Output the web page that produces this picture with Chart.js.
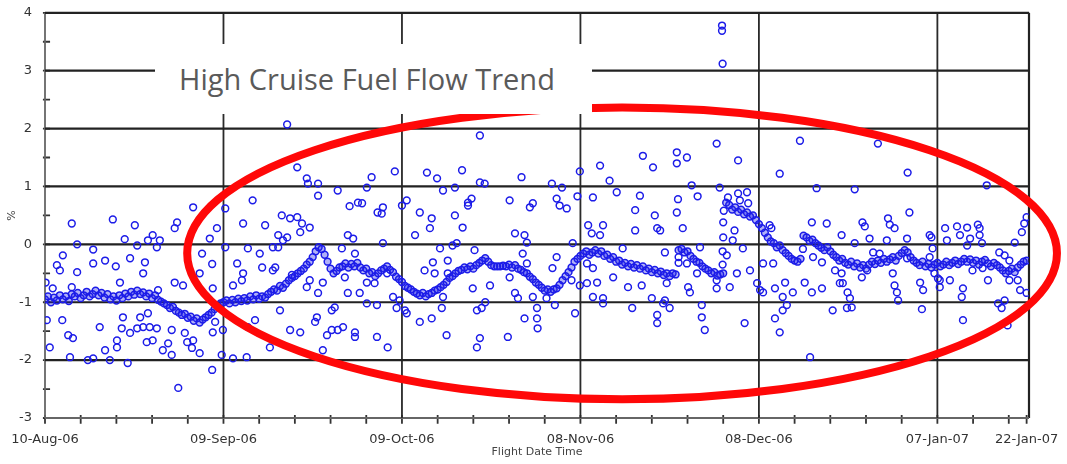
<!DOCTYPE html>
<html>
<head>
<meta charset="utf-8">
<script src="https://cdn.jsdelivr.net/npm/chart.js@4.4.1/dist/chart.umd.min.js"></script>
<style>
  html, body { margin: 0; padding: 0; background: #fff; }
  #wrap { position: relative; width: 1067px; height: 464px; }
  #ring-layer { position: absolute; left: 0; top: 0; pointer-events: none; }
  #title-box {
    position: absolute; left: 155px; top: 44px; width: 437px; height: 70px;
    box-sizing: border-box; padding-left: 24px; background: #fff;
    font-family: "Open Sans", sans-serif; font-size: 29px; line-height: 70px; color: #5a5a5a;
    white-space: nowrap;
  }
</style>
</head>
<body>
<div id="wrap">
  <canvas id="fuel-chart" width="1067" height="464"></canvas>
  <canvas id="ring-layer" width="1067" height="464"></canvas>
  <div id="title-box">High Cruise Fuel Flow Trend</div>
</div>
<script>
// x = days since 10-Aug-06, y = deviation in %
var tickDays = [0, 30, 60, 90, 120, 150, 165];
var tickLabels = ['10-Aug-06', '09-Sep-06', '09-Oct-06', '08-Nov-06', '08-Dec-06', '07-Jan-07', '22-Jan-07'];
var minorTickDays = [6, 12, 18, 24, 36, 42, 48, 54, 66, 72, 78, 84, 96, 102, 108, 114, 126, 132, 138, 144, 156, 162];
var yTickValues = [-3, -2.5, -2, -1.5, -1, -0.5, 0, 0.5, 1, 1.5, 2, 2.5, 3, 3.5, 4];
var dayMax = 165.4;

// smoothed trend, one reading every half day
var trendStartDay = 0;
var trendStepDays = 0.5;
var trendPct = [
  -0.95,-0.9,-1.0,-0.92,-0.97,-0.88,-0.95,-0.9,-0.98,-0.86,
  -0.9,-0.84,-0.93,-0.88,-0.82,-0.9,-0.86,-0.8,-0.88,-0.84,
  -0.92,-0.86,-0.95,-0.9,-0.97,-0.88,-0.93,-0.85,-0.9,-0.82,
  -0.87,-0.8,-0.86,-0.83,-0.9,-0.85,-0.93,-0.88,-0.96,-0.99,
  -1.02,-1.05,-1.1,-1.08,-1.15,-1.18,-1.22,-1.2,-1.27,-1.25,
  -1.32,-1.28,-1.35,-1.3,-1.26,-1.22,-1.18,-1.12,-1.08,-1.02,
  -1.0,-0.97,-1.02,-0.96,-1.0,-0.94,-0.98,-0.93,-0.97,-0.9,
  -0.95,-0.88,-0.94,-0.9,-0.92,-0.86,-0.82,-0.78,-0.8,-0.72,
  -0.75,-0.68,-0.62,-0.58,-0.55,-0.5,-0.46,-0.42,-0.35,-0.3,
  -0.22,-0.12,-0.05,-0.08,-0.18,-0.3,-0.42,-0.5,-0.46,-0.4,
  -0.38,-0.33,-0.4,-0.34,-0.38,-0.32,-0.4,-0.45,-0.42,-0.5,
  -0.48,-0.55,-0.5,-0.45,-0.42,-0.38,-0.44,-0.48,-0.56,-0.6,
  -0.65,-0.72,-0.75,-0.78,-0.82,-0.85,-0.88,-0.84,-0.9,-0.86,
  -0.84,-0.8,-0.78,-0.74,-0.7,-0.65,-0.58,-0.55,-0.5,-0.46,
  -0.44,-0.4,-0.43,-0.38,-0.42,-0.36,-0.32,-0.28,-0.24,-0.3,
  -0.36,-0.38,-0.38,-0.38,-0.37,-0.38,-0.35,-0.4,-0.36,-0.42,
  -0.44,-0.48,-0.5,-0.56,-0.6,-0.66,-0.7,-0.75,-0.8,-0.78,
  -0.82,-0.78,-0.76,-0.7,-0.62,-0.55,-0.48,-0.4,-0.3,-0.25,
  -0.2,-0.16,-0.12,-0.18,-0.14,-0.1,-0.16,-0.12,-0.2,-0.18,
  -0.25,-0.22,-0.3,-0.28,-0.35,-0.32,-0.38,-0.34,-0.4,-0.36,
  -0.42,-0.38,-0.45,-0.42,-0.48,-0.44,-0.5,-0.47,-0.53,-0.5,
  -0.55,-0.5,-0.52,-0.1,-0.08,-0.14,-0.12,-0.2,-0.25,-0.3,
  -0.32,-0.38,-0.42,-0.45,-0.5,-0.48,-0.54,-0.52,-0.5,0.72,
  0.68,0.6,0.64,0.56,0.6,0.52,0.55,0.48,0.5,0.42,
  0.35,0.28,0.2,0.12,0.05,0.02,-0.05,-0.02,-0.1,-0.15,
  -0.2,-0.25,-0.28,-0.3,-0.25,0.15,0.12,0.06,0.08,0.02,
  -0.02,-0.06,-0.1,-0.05,-0.12,-0.18,-0.22,-0.28,-0.25,-0.32,
  -0.35,-0.3,-0.38,-0.33,-0.4,-0.36,-0.42,-0.35,-0.3,-0.34,
  -0.28,-0.32,-0.25,-0.3,-0.26,-0.22,-0.28,-0.2,-0.15,-0.1,
  -0.14,-0.22,-0.28,-0.32,-0.36,-0.3,-0.38,-0.34,-0.4,-0.35,
  -0.32,-0.38,-0.35,-0.3,-0.36,-0.32,-0.28,-0.34,-0.3,-0.25,
  -0.3,-0.26,-0.32,-0.28,-0.35,-0.3,-0.27,-0.33,-0.38,-0.32,
  -0.36,-0.4,-0.45,-0.5,-0.46,-0.42,-0.48,-0.4,-0.35,-0.3,
  -0.28
];

// individual flights away from the trend: [day, %]
var scatterPoints = [
  [24.9,0.64],[30.3,0.62],[4.5,0.36],[11.4,0.43],[15.1,0.33],[21.8,0.28],[22.2,0.38],[28.9,0.28],
  [5.4,0.0],[13.4,0.09],[15.5,-0.02],[17.3,0.07],[18.1,0.16],[19.3,0.07],[18.8,-0.05],[27.7,0.1],
  [30.3,-0.05],[8.1,-0.09],[3.0,-0.19],[8.1,-0.33],[10.1,-0.28],[11.9,-0.38],[14.3,-0.24],[16.8,-0.31],
  [26.4,-0.16],[28.1,-0.34],[2.0,-0.36],[2.5,-0.45],[5.4,-0.48],[16.5,-0.5],[26.0,-0.5],[0.1,-0.66],
  [12.6,-0.66],[21.8,-0.66],[23.2,-0.71],[1.3,-0.76],[4.5,-0.74],[28.2,-0.76],[19.0,-0.79],[0.3,-1.31],
  [2.9,-1.31],[9.2,-1.43],[13.1,-1.26],[12.9,-1.45],[14.3,-1.53],[15.5,-1.45],[16.5,-1.43],[16.0,-1.26],
  [17.3,-1.19],[17.6,-1.43],[18.8,-1.45],[21.3,-1.48],[28.6,-1.34],[28.2,-1.52],[29.9,-1.48],[3.9,-1.57],
  [4.7,-1.62],[12.1,-1.66],[12.1,-1.78],[10.1,-1.83],[17.1,-1.69],[18.1,-1.66],[23.5,-1.53],[24.9,-1.66],
  [23.9,-1.69],[0.8,-1.78],[20.7,-1.71],[19.8,-1.83],[21.3,-1.91],[24.7,-1.79],[26.0,-1.88],[4.2,-1.95],
  [7.2,-2.0],[8.1,-1.97],[10.9,-2.0],[13.9,-2.05],[29.7,-1.91],[28.1,-2.17],[22.4,-2.48],
  [40.7,2.07],[42.4,1.33],[44.0,1.14],[44.2,1.05],[45.9,1.05],[45.9,0.84],[49.2,0.93],[54.1,0.98],
  [54.9,1.16],[58.8,1.26],[34.9,0.76],[51.2,0.66],[52.6,0.72],[53.3,0.71],[55.9,0.55],[56.8,0.64],
  [56.6,0.53],[60.0,0.67],[33.3,0.36],[37.0,0.33],[39.8,0.5],[41.2,0.45],[42.4,0.47],[43.2,0.36],
  [42.9,0.21],[44.5,0.29],[39.2,0.16],[40.0,0.07],[40.7,0.12],[50.9,0.16],[51.8,0.1],[34.1,-0.07],
  [38.3,-0.05],[39.2,-0.05],[49.9,-0.07],[52.1,-0.16],[56.8,0.02],[32.3,-0.33],[36.1,-0.16],[36.5,-0.4],
  [38.7,-0.4],[38.3,-0.45],[33.3,-0.5],[33.1,-0.62],[31.6,-0.71],[41.5,-0.53],[44.5,-0.62],[44.0,-0.74],
  [45.9,-0.84],[46.7,-0.66],[50.4,-0.57],[50.9,-0.84],[52.9,-0.84],[54.1,-0.66],[55.4,-0.67],[57.5,-0.5],
  [58.5,-0.91],[59.6,-0.97],[54.1,-1.02],[55.8,-1.05],[39.5,-1.14],[48.2,-1.14],[48.7,-1.09],[59.1,-1.1],
  [60.5,-1.14],[35.3,-1.31],[34.1,-1.43],[41.2,-1.48],[42.9,-1.52],[45.7,-1.26],[45.4,-1.34],[47.4,-1.57],
  [48.2,-1.48],[49.2,-1.48],[50.1,-1.43],[52.1,-1.6],[52.1,-1.52],[55.8,-1.6],[57.6,-1.78],[37.8,-1.78],
  [46.7,-1.83],[31.6,-1.97],[33.9,-1.95],
  [73.1,1.88],[64.2,1.24],[65.9,1.14],[70.1,1.28],[73.1,1.07],[73.9,1.05],[66.9,0.93],[68.9,0.98],
  [80.1,1.16],[85.2,1.05],[86.9,0.98],[89.9,1.26],[60.8,0.76],[63.0,0.55],[65.0,0.45],[64.7,0.28],
  [71.1,0.72],[71.7,0.79],[71.1,0.67],[68.9,0.5],[70.2,0.29],[78.1,0.76],[81.5,0.64],[82.0,0.71],
  [86.0,0.79],[86.5,0.67],[87.7,0.62],[89.5,0.83],[62.2,0.16],[66.4,-0.07],[68.5,-0.02],[69.2,0.02],
  [72.2,-0.1],[79.0,0.19],[80.6,0.16],[81.0,0.03],[80.3,-0.16],[88.7,0.02],[63.8,-0.45],[65.2,-0.31],
  [65.5,-0.5],[67.7,-0.5],[67.7,-0.28],[78.1,-0.57],[81.0,-0.33],[85.3,-0.41],[86.0,-0.22],[88.5,-0.62],
  [66.9,-0.91],[66.7,-1.1],[71.9,-0.76],[74.8,-0.71],[79.0,-0.84],[79.5,-0.93],[82.0,-0.91],[82.7,-1.1],
  [85.7,-1.05],[84.3,-0.93],[60.8,-1.19],[63.0,-1.34],[65.0,-1.28],[72.6,-1.14],[74.0,-1.0],[73.4,-1.1],
  [80.6,-1.28],[82.7,-1.28],[82.8,-1.45],[67.5,-1.57],[73.1,-1.62],[72.6,-1.78],[77.8,-1.6],[89.9,-0.71],
  [89.1,-1.19],
  [113.8,3.78],[113.8,3.69],[113.9,3.12],[112.9,1.74],[100.5,1.53],[106.2,1.59],[106.2,1.4],[107.9,1.5],
  [116.5,1.45],[93.3,1.36],[102.2,1.33],[94.9,1.1],[96.1,0.9],[92.1,0.81],[100.0,0.84],[108.7,1.02],
  [109.7,0.83],[106.4,0.78],[113.4,0.98],[114.8,0.81],[116.5,0.88],[118.0,0.9],[116.8,0.76],[118.2,0.71],
  [99.2,0.59],[102.5,0.5],[106.2,0.55],[91.3,0.33],[91.9,0.19],[93.3,0.16],[93.8,0.33],[99.2,0.24],
  [102.9,0.28],[103.4,0.24],[107.2,0.28],[115.6,0.07],[115.9,0.24],[97.1,-0.07],[104.2,-0.14],[110.1,-0.05],
  [117.3,-0.07],[114.6,-0.19],[120.7,-0.33],[91.1,-0.33],[92.1,-0.41],[107.9,-0.33],[109.6,-0.5],[118.5,-0.45],
  [116.3,-0.5],[91.1,-0.67],[92.8,-0.66],[95.5,-0.57],[98.0,-0.74],[100.3,-0.71],[104.5,-0.67],[108.1,-0.74],
  [108.4,-0.83],[112.9,-0.62],[112.9,-0.76],[115.1,-0.74],[119.7,-0.67],[120.2,-0.79],[92.1,-0.91],[93.8,-0.93],
  [93.8,-1.02],[98.7,-1.1],[102.0,-0.93],[104.2,-0.97],[105.0,-1.1],[103.9,-1.02],[110.4,-1.05],[110.4,-1.26],
  [110.9,-1.48],[102.9,-1.22],[102.9,-1.36],[117.6,-1.36],
  [106.5,-0.32],[106.5,-0.22],[113.9,-0.35],[113.9,-0.12],[114.0,0.12],[114.0,0.38],[114.1,0.58],[127.4,-0.08],
  [126.9,1.79],[140.0,1.74],[123.5,1.22],[145.0,1.24],[129.7,0.97],[136.1,0.95],[145.3,0.55],[121.8,0.33],
  [122.1,0.28],[128.9,0.38],[131.4,0.36],[137.4,0.38],[137.8,0.31],[141.7,0.45],[142.0,0.34],[142.8,0.28],
  [133.9,0.16],[136.1,0.02],[138.6,0.1],[141.5,0.07],[144.9,0.1],[148.7,0.16],[151.3,0.28],[122.4,-0.33],
  [129.1,-0.22],[130.6,-0.31],[139.2,-0.14],[140.3,-0.16],[142.5,-0.5],[132.8,-0.45],[133.9,-0.5],[134.1,-0.67],
  [138.2,-0.45],[137.3,-0.57],[144.9,-0.24],[148.7,-0.22],[120.7,-0.83],[122.7,-0.76],[124.4,-0.66],
  [124.0,-0.91],[125.7,-0.83],[127.7,-0.66],[128.9,-0.83],[130.6,-0.76],[133.6,-0.67],[134.9,-0.83],[135.3,-0.93],
  [134.8,-1.1],[135.6,-1.09],[142.8,-0.71],[143.2,-0.83],[143.4,-0.97],[147.1,-0.66],[147.6,-0.79],[150.1,-0.59],
  [150.4,-0.74],[132.4,-1.14],[147.4,-1.12],[124.7,-1.05],[124.0,-1.14],[122.7,-1.28],[123.5,-1.52],[128.6,-1.95],
  [158.3,1.02],[153.3,0.31],[155.0,0.29],[156.8,0.34],[157.1,0.28],[151.6,0.07],[153.8,0.16],[155.5,0.1],
  [157.1,0.16],[157.5,0.02],[155.0,-0.02],[163.0,0.03],[164.2,0.21],[164.6,0.36],[165.0,0.47],[160.4,-0.14],
  [161.3,-0.19],[162.1,-0.28],[149.2,-0.07],[149.0,0.12],[149.5,-0.5],[150.4,-0.62],[152.1,-0.62],[155.9,-0.45],
  [157.6,-0.41],[158.5,-0.62],[163.5,-0.62],[163.9,-0.79],[165.0,-0.84],[154.3,-0.76],[154.1,-0.91],[160.2,-1.02],
  [160.8,-1.1],[161.3,-0.97],[154.3,-1.31],[161.8,-1.4],[162.1,-0.62]
];

// red ring drawn over the data (centre and half-axes in data units)
var ringCenterDay = 97.0;
var ringCenterPct = -0.155;
var ringHalfDays = 73.1;
var ringHalfPct = 2.52;

var xTickDays = tickDays.concat(minorTickDays).sort(function(a, b) { return a - b; });

var trendData = trendPct.map(function(v, i) {
    return { x: trendStartDay + i * trendStepDays, y: v };
});
var scatterData = scatterPoints.map(function(p) {
    return { x: p[0], y: p[1] };
});

// grid lines as broken line series, built from the tick values
function segments(pairs) {
    var out = [];
    pairs.forEach(function(p) {
        out.push({ x: p[0], y: p[1] }, { x: p[2], y: p[3] }, { x: p[2], y: null });
    });
    return out;
}
var hGridData = segments(yTickValues.filter(function(v) { return Number.isInteger(v) && v > -3; })
    .map(function(v) { return [0, v, dayMax, v]; }));
var vGridData = segments(tickDays.filter(function(d) { return d > 0 && d % 30 === 0; })
    .map(function(d) { return [d, -3, d, 4]; }));
var axisData = segments([[0, 4, 0, -3], [0, -3, dayMax, -3]]);
var rightEdgeData = segments([[dayMax, -3, dayMax, 4]]);
var xTickMarkData = segments(xTickDays.map(function(d) { return [d, -2.95, d, -3.1]; }));
var yTickMarkData = segments(yTickValues.map(function(v) { return [-0.35, v, 0.85, v]; }));

function lineSet(label, data, color, width) {
    return {
        label: label, data: data, showLine: true, spanGaps: false, fill: false,
        borderColor: color, borderWidth: width, pointRadius: 0, pointHoverRadius: 0,
        order: 5, clip: false
    };
}

var fuelChart = new Chart(document.getElementById('fuel-chart'), {
    type: 'scatter',
    data: {
        datasets: [
            { label: 'Trend', data: trendData, order: 0, pointRadius: 3.4, pointBorderWidth: 1.5,
              pointBorderColor: '#1c1ce8', pointBackgroundColor: 'rgba(28,28,232,0.35)' },
            { label: 'Flights', data: scatterData, order: 0, pointRadius: 3.4, pointBorderWidth: 1.5,
              pointBorderColor: '#1c1ce8', pointBackgroundColor: 'rgba(255,255,255,0)' },
            lineSet('hgrid', hGridData, '#222', 2.2),
            lineSet('vgrid', vGridData, '#2a2a2a', 1.8),
            lineSet('axes', axisData, '#666', 1.8),
            lineSet('frame', rightEdgeData, '#222', 2.2),
            lineSet('xticks', xTickMarkData, '#333', 1.8),
            lineSet('yticks', yTickMarkData, '#333', 1.8)
        ]
    },
    options: {
        responsive: false,
        animation: false,
        layout: { padding: { top: 12, right: 38, left: 0, bottom: 0 } },
        plugins: {
            legend: { display: false },
            tooltip: { enabled: false }
        },
        scales: {
            x: {
                type: 'linear',
                min: 0,
                max: dayMax,
                afterBuildTicks: function(scale) {
                    scale.ticks = xTickDays.map(function(v) { return { value: v }; });
                },
                afterFit: function(scale) { scale.height = 46; },
                ticks: {
                    autoSkip: false,
                    maxRotation: 0,
                    minRotation: 0,
                    padding: 6,
                    color: '#333',
                    font: { family: 'DejaVu Sans', size: 13 },
                    callback: function(value) {
                        var i = tickDays.indexOf(value);
                        return i >= 0 ? tickLabels[i] : '';
                    }
                },
                grid: { display: false },
                border: { display: false },
                title: {
                    display: true,
                    text: 'Flight Date Time',
                    color: '#444',
                    font: { family: 'DejaVu Sans', size: 11 },
                    padding: { top: 0, bottom: 5 }
                }
            },
            y: {
                min: -3,
                max: 4,
                afterBuildTicks: function(scale) {
                    scale.ticks = yTickValues.map(function(v) { return { value: v }; });
                },
                afterFit: function(scale) { scale.width = 45; },
                ticks: {
                    padding: 5,
                    color: '#333',
                    font: { family: 'DejaVu Sans', size: 13 },
                    callback: function(value) {
                        return Number.isInteger(value) ? String(value) : '';
                    }
                },
                grid: { display: false },
                border: { display: false },
                title: {
                    display: true,
                    text: '%',
                    color: '#444',
                    font: { family: 'DejaVu Sans', size: 11 },
                    padding: { top: 6, bottom: 0 }
                }
            }
        }
    }
});

// the hand-drawn ring sits on its own layer, placed with the chart's scales
(function drawRing() {
    var g = document.getElementById('ring-layer').getContext('2d');
    var xs = fuelChart.scales.x, ys = fuelChart.scales.y;
    var cx = xs.getPixelForValue(ringCenterDay);
    var cy = ys.getPixelForValue(ringCenterPct);
    var rx = xs.getPixelForValue(ringCenterDay + ringHalfDays) - cx;
    var ry = cy - ys.getPixelForValue(ringCenterPct + ringHalfPct);
    g.strokeStyle = '#ff0808';
    g.lineWidth = 8;
    g.beginPath();
    g.ellipse(cx, cy, rx, ry, 0, 0, Math.PI * 2);
    g.stroke();
})();
</script>
</body>
</html>
